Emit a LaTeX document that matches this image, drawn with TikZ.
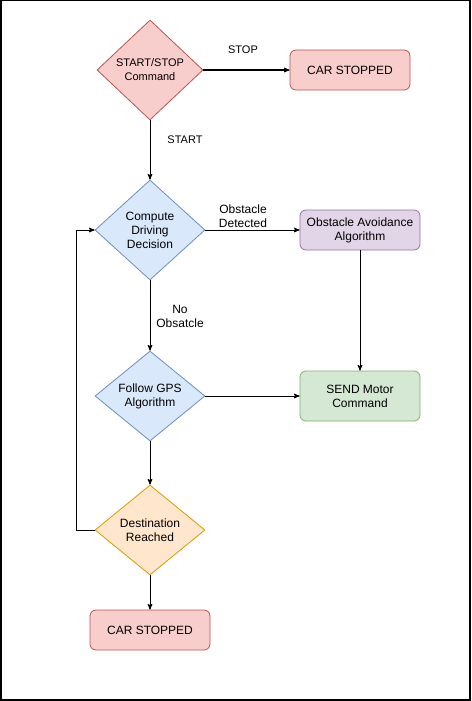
\documentclass[tikz,border=0pt]{standalone}
\usepackage{fontspec}
\setmainfont{Liberation Sans}
\usetikzlibrary{shapes,arrows,positioning}

\definecolor{redfill}{HTML}{F8CECC}
\definecolor{redline}{HTML}{B85450}
\definecolor{bluefill}{HTML}{DAE8FC}
\definecolor{blueline}{HTML}{6C8EBF}
\definecolor{purplefill}{HTML}{E1D5E7}
\definecolor{purpleline}{HTML}{9673A6}
\definecolor{greenfill}{HTML}{D5E8D4}
\definecolor{greenline}{HTML}{82B366}
\definecolor{orangefill}{HTML}{FFE6CC}
\definecolor{orangeline}{HTML}{D79B00}

\begin{document}
\begin{tikzpicture}[x=1pt,y=-1pt,
	decision/.style={diamond,draw,line width=0.8pt,inner sep=0pt,align=center,minimum width=110pt,minimum height=90pt,font=\fontsize{12}{14}\selectfont},
	block/.style={rectangle,draw,line width=0.8pt,rounded corners=6pt,align=center,minimum width=120pt,minimum height=40pt,font=\fontsize{12}{14}\selectfont},
	lbl/.style={align=center,inner sep=0pt,font=\fontsize{12}{14}\selectfont}]
									\useasboundingbox (0,0) rectangle (471,701);
									\draw[line width=1.5pt] (0.75,0.75) rectangle (469.75,699.75);
									
									\node[decision,fill=redfill,draw=redline,minimum width=106pt,minimum height=100pt,font=\fontsize{11}{14}\selectfont](cmd) at (150,70){START/STOP\\Command};
									
									\node[block,fill=redfill,draw=redline](stop1) at (350,70){CAR STOPPED};
									
									\node[decision,fill=bluefill,draw=blueline,minimum height=100pt](drive) at (150,230){Compute\\Driving\\Decision};
									
									\node[block,fill=purplefill,draw=purpleline](avoid) at (360,230){Obstacle Avoidance\\Algorithm};
									
									\node[decision,fill=bluefill,draw=blueline](gps) at (150,396){Follow GPS\\Algorithm};
									
									\node[block,fill=greenfill,draw=greenline,minimum height=50pt](motor) at (360,396){SEND Motor\\Command};
									
									\node[decision,fill=orangefill,draw=orangeline](dest) at (150,530){Destination\\Reached};
									
									\node[block,fill=redfill,draw=redline](stop2) at (150,630){CAR STOPPED};
									
									\node[lbl,font=\fontsize{11}{14}\selectfont](lstop) at (243,50){STOP};
									\node[lbl,font=\fontsize{11}{14}\selectfont](lstart) at (185,140){START};
									\node[lbl](lobst) at (243,216){Obstacle\\Detected};
									\node[lbl](lnone) at (180,316){No\\Obsatcle};
									
									\coordinate (loop) at (76,230);
									
									\path [->,>=stealth',line width=1pt]
										(cmd.east) edge node {} (stop1.west)
										(cmd.south) edge node {} (drive.north)
										(drive.east) edge node {} (avoid.west)
										(avoid.south) edge node {} (motor.north)
										(drive.south) edge node {} (gps.north)
										(gps.east) edge node {} (motor.west)
										(gps.south) edge node {} (dest.north)
										(dest.south) edge node {} (stop2.north);
									\draw [->,>=stealth',line width=1pt] (dest.west) -| (loop) -- (drive.west);
								\end{tikzpicture}
\end{document}
